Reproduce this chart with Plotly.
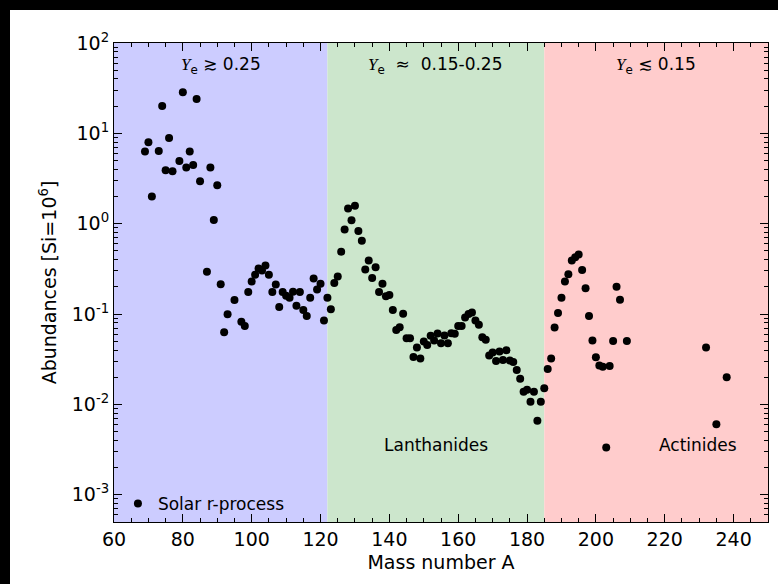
import plotly.graph_objects as go

# Solar r-process abundances (Si = 1e6) by mass number
mass_number = [
    69, 70, 71, 73, 74, 75, 76, 77, 79, 80, 81, 82, 83, 84, 85, 87, 88, 89, 90,
    91, 92, 93, 95, 97, 98, 99, 100, 101, 102, 103, 104, 105, 106, 107, 108, 109,
    110, 111, 112, 113, 114, 115, 116, 117, 118, 119, 120, 121, 122, 123, 124, 125,
    126, 127, 128, 129, 130, 131, 132, 133, 134, 135, 136, 137, 138, 139, 140, 141,
    142, 143, 144, 145, 146, 147, 148, 149, 150, 151, 152, 153, 154, 155, 156, 157,
    158, 159, 160, 161, 162, 163, 164, 165, 166, 167, 168, 169, 170, 171, 172, 173,
    174, 175, 176, 177, 178, 179, 180, 181, 182, 183, 184, 185, 186, 187, 188, 189,
    190, 191, 192, 193, 194, 195, 196, 197, 198, 199, 200, 201, 202, 203, 204, 205,
    206, 207, 209, 232, 235, 238,
]
abundance = [
    6.28, 7.97, 2.0, 6.38, 20.1, 3.91, 8.9, 3.81, 4.95, 28.5, 4.18, 6.28, 4.47, 24.0,
    2.95, 0.295, 4.18, 1.1, 2.67,
    0.214, 0.063, 0.0998, 0.143, 0.082, 0.074, 0.175, 0.229, 0.272, 0.319, 0.303,
    0.344, 0.272, 0.175, 0.212, 0.120, 0.175,
    0.160, 0.152, 0.177, 0.124, 0.175, 0.111, 0.0955, 0.152, 0.247, 0.187, 0.217,
    0.0847, 0.152, 0.113, 0.221, 0.260,
    0.491, 0.861, 1.47, 1.09, 1.58, 0.832, 0.650, 0.311, 0.391, 0.250, 0.330, 0.175,
    0.216, 0.158, 0.163, 0.111,
    0.0668, 0.0716, 0.101, 0.054, 0.054, 0.0336, 0.0426, 0.0322, 0.0497, 0.0456,
    0.0574, 0.0509, 0.0608, 0.0476, 0.0578, 0.0476,
    0.0615, 0.0604, 0.074, 0.074, 0.0914, 0.100, 0.104, 0.0847, 0.076, 0.0555,
    0.0519, 0.0347, 0.0375, 0.0303, 0.0385, 0.0311,
    0.0398, 0.0306, 0.0294, 0.0241, 0.0192, 0.0138, 0.0145, 0.0107, 0.0138, 0.00659,
    0.0107, 0.0151, 0.0246, 0.0322, 0.071, 0.103,
    0.152, 0.229, 0.276, 0.391, 0.426, 0.455, 0.308, 0.193, 0.0955, 0.0509, 0.0333,
    0.0269, 0.0261, 0.00333, 0.0267, 0.0505,
    0.201, 0.144, 0.0505, 0.0426, 0.00605, 0.020,
]

# Electron-fraction regimes shaded along the mass axis
region_edges = [60, 122, 185, 250]
region_colors = ["#CCCCFF", "#CCE6CC", "#FFCCCC"]
region_labels = [
    "<span style='font-family:Liberation Serif'><i>Y</i></span><sub>e</sub> ≳ 0.25",
    "<span style='font-family:Liberation Serif'><i>Y</i></span><sub>e</sub>  ≈  0.15-0.25",
    "<span style='font-family:Liberation Serif'><i>Y</i></span><sub>e</sub> ≲ 0.15",
]

group_names = ["Lanthanides", "Actinides"]
group_positions = [153.5, 229.7]

x_ticks = [60, 80, 100, 120, 140, 160, 180, 200, 220, 240]
y_ticks = [1e-3, 1e-2, 1e-1, 1e0, 1e1, 1e2]
y_ticktext = ["10<sup>-3</sup>", "10<sup>-2</sup>", "10<sup>-1</sup>",
              "10<sup>0</sup>", "10<sup>1</sup>", "10<sup>2</sup>"]

FONT = "DejaVu Sans"

fig = go.Figure()
fig.add_trace(go.Scatter(
    x=mass_number, y=abundance, mode="markers", name="Solar r-process",
    marker=dict(color="black", size=8, line=dict(width=0)),
))

shapes = []
annotations = []
for i, color in enumerate(region_colors):
    x0, x1 = region_edges[i], region_edges[i + 1]
    shapes.append(dict(type="rect", xref="x", yref="paper", x0=x0, x1=x1, y0=0, y1=1,
                       fillcolor=color, line=dict(width=0), layer="below"))
    annotations.append(dict(x=(x0 + x1) / 2, y=0.954, xref="x", yref="paper",
                            text=region_labels[i], showarrow=False,
                            xanchor="center", yanchor="middle",
                            font=dict(family=FONT, size=17, color="black")))

for name, pos in zip(group_names, group_positions):
    annotations.append(dict(x=pos, y=0.161, xref="x", yref="paper", text=name,
                            showarrow=False, xanchor="center", yanchor="middle",
                            font=dict(family=FONT, size=17, color="black")))

# page size and plot-area margins in pixels
W, H = 778, 584
L, R, T, B = 114, 10, 43, 62
pw, ph = W - L - R, H - T - B


def px_x(p):
    return (p - L) / pw


def px_y(p):
    return (H - B - p) / ph


# dark frame strips along the top and left page edges
shapes.append(dict(type="rect", xref="paper", yref="paper", x0=px_x(0), x1=px_x(10),
                   y0=px_y(H), y1=px_y(0), fillcolor="black", line=dict(width=0)))
shapes.append(dict(type="rect", xref="paper", yref="paper", x0=px_x(0), x1=px_x(W),
                   y0=px_y(10), y1=px_y(0), fillcolor="black", line=dict(width=0)))

fig.update_layout(
    width=W, height=H,
    margin=dict(l=L, r=R, t=T, b=B),
    paper_bgcolor="white", plot_bgcolor="white",
    font=dict(family=FONT, size=19, color="black"),
    shapes=shapes, annotations=annotations,
    showlegend=True,
    legend=dict(x=0.006, y=0.0, xanchor="left", yanchor="bottom",
                bgcolor="rgba(0,0,0,0)", borderwidth=0,
                font=dict(family=FONT, size=17, color="black")),
)

fig.update_xaxes(
    range=[60, 250], tickvals=x_ticks, ticktext=[str(v) for v in x_ticks],
    showgrid=False, zeroline=False, showline=True, linecolor="black", linewidth=1,
    mirror="ticks", ticks="inside", ticklen=8, tickcolor="black",
    minor=dict(ticks="inside", ticklen=4, dtick=5, tickcolor="black", showgrid=False),
    title=dict(text="Mass number A", standoff=6, font=dict(family=FONT, size=19)),
    tickfont=dict(family=FONT, size=19),
)
fig.update_yaxes(
    type="log", range=[-3.301, 2], tickvals=y_ticks, ticktext=y_ticktext,
    showgrid=False, zeroline=False, showline=True, linecolor="black", linewidth=1,
    mirror="ticks", ticks="inside", ticklen=8, tickcolor="black",
    minor=dict(ticks="inside", ticklen=4, dtick="D1", tickcolor="black", showgrid=False),
    title=dict(text="Abundances [Si=10<sup>6</sup>]", standoff=10,
               font=dict(family=FONT, size=19)),
    tickfont=dict(family=FONT, size=19),
)

fig.write_html("out.html")
